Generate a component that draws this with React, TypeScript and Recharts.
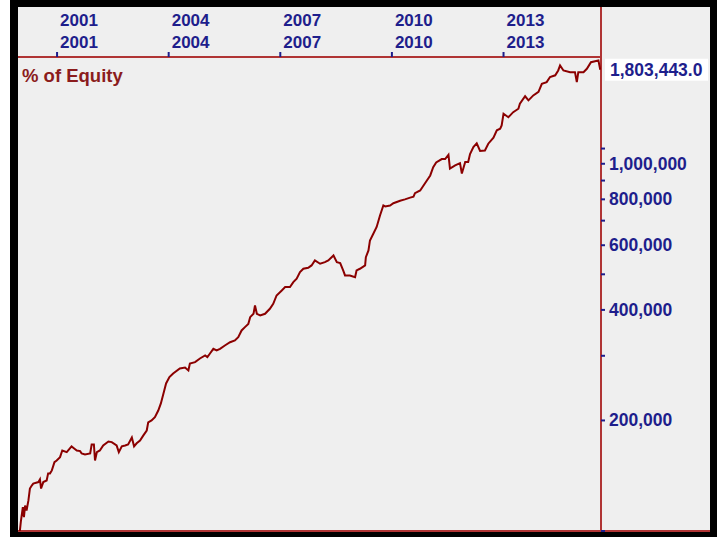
import React from 'react';
import { LineChart, Line, XAxis, YAxis, ReferenceLine } from 'recharts';

// time in decimal years
const years = [
  2000.00, 2000.03, 2000.08, 2000.11, 2000.14, 2000.18, 2000.23, 2000.27, 2000.32, 2000.36,
  2000.50, 2000.54, 2000.57, 2000.63, 2000.72, 2000.76, 2000.81, 2000.86, 2000.93, 2000.99,
  2001.08, 2001.14, 2001.26, 2001.39, 2001.46, 2001.53, 2001.62, 2001.66, 2001.75, 2001.89,
  2001.93, 2001.99, 2002.02, 2002.07, 2002.15, 2002.24, 2002.38, 2002.47, 2002.60, 2002.66,
  2002.74, 2002.83, 2002.91, 2003.01, 2003.07, 2003.14, 2003.23, 2003.32, 2003.41, 2003.45,
  2003.54, 2003.63, 2003.72, 2003.79, 2003.86, 2003.93, 2004.02, 2004.12, 2004.30, 2004.44,
  2004.53, 2004.57, 2004.71, 2004.84, 2004.98, 2005.04, 2005.11, 2005.20, 2005.29, 2005.38,
  2005.51, 2005.65, 2005.78, 2005.87, 2005.96, 2006.05, 2006.14, 2006.19, 2006.28, 2006.32,
  2006.37, 2006.46, 2006.59, 2006.72, 2006.81, 2006.90, 2007.04, 2007.13, 2007.26, 2007.35,
  2007.44, 2007.53, 2007.62, 2007.75, 2007.84, 2007.93, 2008.07, 2008.20, 2008.29, 2008.43,
  2008.52, 2008.61, 2008.69, 2008.74, 2008.87, 2009.01, 2009.05, 2009.14, 2009.28, 2009.30,
  2009.37, 2009.41, 2009.50, 2009.59, 2009.68, 2009.77, 2009.82, 2009.95, 2010.04, 2010.22,
  2010.35, 2010.49, 2010.58, 2010.62, 2010.76, 2010.85, 2010.94, 2011.03, 2011.11, 2011.19,
  2011.34, 2011.43, 2011.52, 2011.56, 2011.70, 2011.83, 2011.88, 2011.97, 2012.05, 2012.10,
  2012.19, 2012.28, 2012.37, 2012.50, 2012.59, 2012.73, 2012.82, 2012.91, 2012.95, 2013.00,
  2013.13, 2013.26, 2013.40, 2013.44, 2013.58, 2013.67, 2013.80, 2013.94, 2014.03, 2014.16,
  2014.25, 2014.39, 2014.47, 2014.52, 2014.61, 2014.79, 2014.92, 2014.97, 2015.01, 2015.15,
  2015.24, 2015.35, 2015.46, 2015.55, 2015.60,
];

const equity = [
  100000, 106800, 116100, 109000, 117300, 113700, 121100, 130500, 133000, 134600,
  135900, 138200, 130500, 135900, 137300, 143500, 143500, 146200, 154000, 155600,
  158900, 165700, 164000, 170000, 167800, 165700, 165000, 162600, 161600, 162600,
  172000, 172000, 155600, 164000, 165700, 171000, 175300, 174600, 171000, 164000,
  170000, 171000, 172000, 179700, 170000, 173300, 176400, 182100, 187800, 197700,
  200000, 204200, 212900, 222500, 236900, 252200, 262400, 268500, 277100, 278800,
  273600, 285900, 288300, 295000, 300600, 297400, 304300, 313400, 310100, 313400,
  320000, 326600, 330200, 337100, 351600, 359000, 366300, 382200, 390300, 411400,
  390300, 386300, 390300, 402900, 415600, 437800, 451900, 461400, 461400, 476000,
  486200, 506800, 517700, 521000, 528600, 545400, 534300, 539800, 545400, 562800,
  539800, 536400, 512200, 496400, 496400, 491100, 512200, 517700, 528600, 556500,
  580700, 618200, 644700, 672900, 723100, 769900, 765000, 769900, 780800, 793000,
  800000, 808600, 813600, 831300, 845900, 872800, 900600, 929400, 978300, 1008000,
  1030000, 1030000, 1058000, 970000, 990000, 1004000, 941000, 1011000, 1011000, 1063000,
  1110000, 1137000, 1084000, 1087000, 1134000, 1177000, 1233000, 1246000, 1272000, 1368000,
  1339000, 1382000, 1412000, 1458000, 1527000, 1488000, 1535000, 1569000, 1651000, 1668000,
  1723000, 1741000, 1795000, 1853000, 1795000, 1776000, 1776000, 1668000, 1776000, 1776000,
  1814000, 1890000, 1902000, 1912000, 1803443,
];

const yearTicks = [2001, 2004, 2007, 2010, 2013];
const equityTicks = [100000, 200000, 300000, 400000, 500000, 600000, 700000, 800000, 900000, 1000000, 1100000];
const labeledTicks = [200000, 400000, 600000, 800000, 1000000];
const lastValueLabel = '1,803,443.0';
const seriesLabel = '% of Equity';

const data = years.map((t, i) => ({ t, v: equity[i] }));
const lastValue = equity[equity.length - 1];

const FONT = '"Liberation Sans", Arial, sans-serif';
const NAVY = '#1e1e8c';
const AXIS_RED = '#b03434';
const LINE_RED = '#8b0000';

function YearTick(props: any) {
  const { x, payload } = props;
  return (
    <g>
      <text x={x + 3} y={26} fill={NAVY} fontFamily={FONT} fontWeight="bold" fontSize={17}>{payload.value}</text>
      <text x={x + 3} y={48} fill={NAVY} fontFamily={FONT} fontWeight="bold" fontSize={17}>{payload.value}</text>
    </g>
  );
}

function EquityTick(props: any) {
  const { y, payload } = props;
  if (!labeledTicks.includes(payload.value)) return <g />;
  return (
    <text x={609} y={y} dy={6} fill={NAVY} fontFamily={FONT} fontWeight="bold" fontSize={17.5}>
      {payload.value.toLocaleString('en-US')}
    </text>
  );
}

function LastLabel(props: any) {
  const vb = props.viewBox || {};
  return (
    <g>
      <rect x={605} y={vb.y - 11} width={103} height={22} fill="#ffffff" />
      <text x={610} y={vb.y} dy={6} fill={NAVY} fontFamily={FONT} fontWeight="bold" fontSize={17.5}>{lastValueLabel}</text>
    </g>
  );
}

export default function App() {
  return (
    <div style={{ position: 'absolute', left: 0, top: 0, width: 721, height: 537, background: '#fff', overflow: 'hidden' }}>
      {/* black frame + grey panel */}
      <div style={{ position: 'absolute', left: 10, top: 0, width: 707, height: 537, background: '#000' }} />
      <div style={{ position: 'absolute', left: 18, top: 7, width: 692, height: 525, background: '#efefef' }} />
      <div style={{ position: 'absolute', left: 18, top: 530, width: 692, height: 2, background: AXIS_RED }} />
      <div style={{ position: 'absolute', left: 600, top: 7, width: 2, height: 524, background: AXIS_RED }} />
      <div style={{ position: 'absolute', left: 0, top: 0 }}>
        <LineChart width={721} height={537} data={data} margin={{ top: 0, left: 18, right: 0, bottom: 6 }}>
          <XAxis
            xAxisId={0}
            dataKey="t"
            type="number"
            orientation="top"
            domain={[1999.95, 2015.62]}
            allowDataOverflow
            ticks={yearTicks}
            height={57}
            tickSize={5}
            tickLine={{ stroke: NAVY, strokeWidth: 2 }}
            axisLine={{ stroke: AXIS_RED, strokeWidth: 2 }}
            tick={<YearTick />}
            interval={0}
          />
          <YAxis
            yAxisId={0}
            type="number"
            scale="log"
            orientation="right"
            domain={[100000, 1953000]}
            allowDataOverflow
            ticks={equityTicks}
            width={120}
            tickSize={4}
            tickLine={{ stroke: NAVY, strokeWidth: 2 }}
            axisLine={false}
            tick={<EquityTick />}
            interval={0}
          />
          <ReferenceLine y={lastValue} stroke="transparent" label={<LastLabel />} />
          <Line
            type="linear"
            dataKey="v"
            stroke={LINE_RED}
            strokeWidth={2}
            dot={false}
            isAnimationActive={false}
          />
        </LineChart>
      </div>
      <div style={{ position: 'absolute', left: 22, top: 65, color: '#8b1c1c', fontFamily: FONT, fontWeight: 'bold', fontSize: 18.5 }}>
        {seriesLabel}
      </div>
    </div>
  );
}
